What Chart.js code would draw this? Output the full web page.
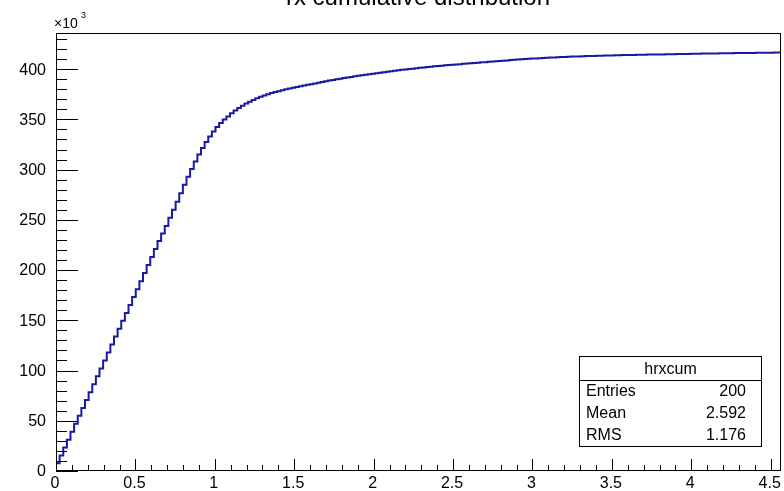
<!DOCTYPE html>
<html>
<head>
<meta charset="utf-8">
<script src="https://cdn.jsdelivr.net/npm/chart.js@4.4.1/dist/chart.umd.min.js"></script>
<style>
  html, body { margin: 0; padding: 0; background: #fff; }
  #wrap { width: 784px; height: 491px; }
</style>
</head>
<body>
<div id="wrap"><canvas id="chart" width="784" height="491"></canvas></div>
<script>
const titleText = 'rx cumulative distribution';
const histName = 'hrxcum';
const nBins = 200;
const xMin = 0;
const xMax = 4.565;
const yMax = 436;

// cumulative content of each bin, in units of 10^3
const cumValues = [
  7.6, 15.5, 23.5, 31.2, 39.0, 47.1, 55.0, 62.6, 70.7, 78.5,
  86.4, 94.2, 102.0, 110.1, 118.0, 125.8, 133.9, 141.6, 149.5, 157.4,
  165.2, 173.3, 181.0, 189.0, 197.0, 205.0, 213.0, 221.0, 229.0, 236.5,
  244.0, 252.0, 260.0, 268.0, 276.5, 285.0, 293.0, 300.5, 308.0, 315.0,
  321.5, 327.5, 333.0, 338.0, 342.5, 346.5, 350.0, 353.0, 356.0, 358.8,
  361.3, 363.6, 365.7, 367.6, 369.4, 371.0, 372.5, 373.9, 375.1, 376.2,
  377.2, 378.1, 379.0, 379.9, 380.7, 381.5, 382.3, 383.0, 383.7, 384.4,
  385.1, 385.8, 386.5, 387.2, 387.9, 388.6, 389.3, 389.9, 390.5, 391.1,
  391.7, 392.3, 392.9, 393.5, 394.0, 394.5, 395.0, 395.5, 396.0, 396.5,
  397.0, 397.5, 398.0, 398.5, 398.9, 399.3, 399.7, 400.1, 400.5, 400.9,
  401.3, 401.7, 402.1, 402.5, 402.8, 403.2, 403.5, 403.8, 404.1, 404.4,
  404.7, 405.0, 405.3, 405.6, 405.9, 406.2, 406.5, 406.8, 407.0, 407.3,
  407.6, 407.9, 408.2, 408.5, 408.7, 409.0, 409.3, 409.5, 409.8, 410.0,
  410.3, 410.5, 410.7, 410.9, 411.1, 411.3, 411.5, 411.7, 411.9, 412.1,
  412.2, 412.3, 412.5, 412.6, 412.7, 412.8, 413.0, 413.1, 413.2, 413.3,
  413.4, 413.5, 413.6, 413.7, 413.8, 413.9, 414.0, 414.0, 414.1, 414.2,
  414.3, 414.3, 414.4, 414.5, 414.5, 414.6, 414.7, 414.7, 414.8, 414.9,
  414.9, 415.0, 415.1, 415.1, 415.2, 415.3, 415.3, 415.4, 415.5, 415.5,
  415.6, 415.6, 415.7, 415.8, 415.8, 415.9, 415.9, 416.0, 416.0, 416.1,
  416.1, 416.2, 416.2, 416.3, 416.3, 416.4, 416.4, 416.4, 416.5, 416.5
];

const xTicks = [0, 0.5, 1, 1.5, 2, 2.5, 3, 3.5, 4, 4.5];
const xTickLabels = ['0', '0.5', '1', '1.5', '2', '2.5', '3', '3.5', '4', '4.5'];
const yTicks = [0, 50, 100, 150, 200, 250, 300, 350, 400];
const yTickLabels = ['0', '50', '100', '150', '200', '250', '300', '350', '400'];
const statsLabels = ['Entries', 'Mean', 'RMS'];
const statsValues = ['200', '2.592', '1.176'];

const FONT = '"Liberation Sans", Arial, Helvetica, sans-serif';

// histogram outline: each bin value holds from its low edge to the next edge
const binW = (xMax - xMin) / nBins;
const points = cumValues.map((v, i) => ({ x: xMin + i * binW, y: v }));
points.push({ x: xMax, y: cumValues[nBins - 1] });

const rootFrame = {
  id: 'rootFrame',
  afterDraw(chart) {
    const { ctx, chartArea: a, scales: { x, y } } = chart;
    ctx.save();
    ctx.strokeStyle = '#000';
    ctx.lineWidth = 1;
    ctx.strokeRect(a.left + 0.5, a.top + 0.5, a.right - a.left - 1, a.bottom - a.top - 1);

    // x axis ticks, minor every 0.1
    ctx.beginPath();
    for (let i = 0; i <= Math.floor(xMax * 10 + 1e-6); i++) {
      const px = Math.round(x.getPixelForValue(i / 10)) + 0.5;
      const len = i % 5 === 0 ? 12 : 6;
      ctx.moveTo(px, a.bottom);
      ctx.lineTo(px, a.bottom - len);
    }
    // y axis ticks, minor every 10
    for (let i = 0; i <= Math.floor(yMax / 10); i++) {
      const py = Math.round(y.getPixelForValue(i * 10)) + 0.5;
      const len = i % 5 === 0 ? 22 : 11;
      ctx.moveTo(a.left, py);
      ctx.lineTo(a.left + len, py);
    }
    ctx.stroke();

    ctx.fillStyle = '#000';
    ctx.font = '16px ' + FONT;
    ctx.textAlign = 'center';
    ctx.textBaseline = 'alphabetic';
    xTicks.forEach((v, i) => {
      ctx.fillText(xTickLabels[i], x.getPixelForValue(v) - 1, 488);
    });
    ctx.textAlign = 'right';
    ctx.textBaseline = 'middle';
    yTicks.forEach((v, i) => {
      ctx.fillText(yTickLabels[i], 46, y.getPixelForValue(v) + 1);
    });

    // exponent
    ctx.textAlign = 'left';
    ctx.textBaseline = 'alphabetic';
    ctx.font = '14px ' + FONT;
    ctx.fillText('\u00d710', 54, 28);
    ctx.font = '9px ' + FONT;
    ctx.fillText('3', 81, 18);

    // title (cut by the top edge)
    ctx.font = '24px ' + FONT;
    ctx.textAlign = 'center';
    ctx.fillText(titleText, 418, 5);

    // stats box
    const bx = 579.5, by = 356.5, bw = 182, bh = 90;
    ctx.fillStyle = '#fff';
    ctx.fillRect(bx, by, bw, bh);
    ctx.strokeRect(bx, by, bw, bh);
    ctx.beginPath();
    ctx.moveTo(bx, 380.5);
    ctx.lineTo(bx + bw, 380.5);
    ctx.stroke();
    ctx.fillStyle = '#000';
    ctx.font = '16px ' + FONT;
    ctx.textAlign = 'center';
    ctx.fillText(histName, bx + bw / 2, 374);
    statsLabels.forEach((lab, i) => {
      const base = 396 + i * 22;
      ctx.textAlign = 'left';
      ctx.fillText(lab, 586, base);
      ctx.textAlign = 'right';
      ctx.fillText(statsValues[i], 746, base);
    });
    ctx.restore();
  }
};

new Chart(document.getElementById('chart'), {
  type: 'line',
  data: {
    datasets: [{
      label: histName,
      data: points,
      borderColor: '#1a1aa0',
      borderWidth: 2,
      pointRadius: 0,
      fill: false,
      stepped: 'before',
      tension: 0
    }]
  },
  options: {
    responsive: false,
    animation: false,
    events: [],
    layout: { padding: { left: 56, right: 3, top: 33, bottom: 20 } },
    plugins: {
      legend: { display: false },
      tooltip: { enabled: false }
    },
    scales: {
      x: { type: 'linear', min: xMin, max: xMax, display: false },
      y: { type: 'linear', min: 0, max: yMax, display: false }
    }
  },
  plugins: [rootFrame]
});
</script>
</body>
</html>
